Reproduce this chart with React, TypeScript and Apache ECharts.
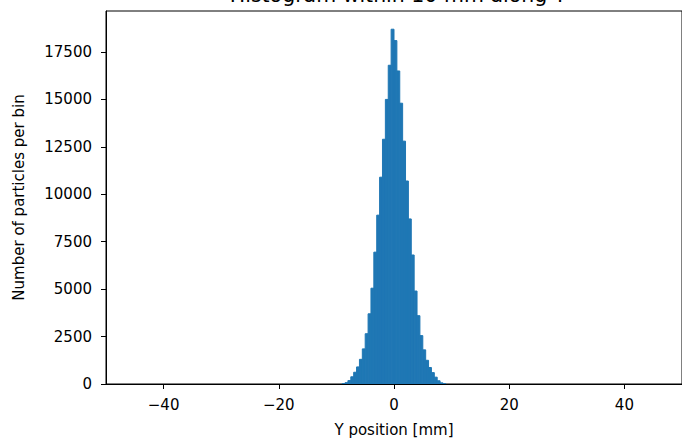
import React, { useEffect, useRef } from "react";
import * as echarts from "echarts";

const binEdgesLeft = [
  -9, -8.5, -8, -7.5, -7, -6.5, -6, -5.5, -5, -4.5, -4, -3.5, -3, -2.5, -2, -1.5, -1, -0.5,
  0, 0.5, 1, 1.5, 2, 2.5, 3, 3.5, 4, 4.5, 5, 5.5, 6, 6.5, 7, 7.5, 8, 8.5,
];
const binWidth = 0.5;
const counts = [
  20, 70, 180, 380, 620, 900, 1300, 1850, 2650, 3700, 5050, 6950, 8900, 10900, 12900, 15000, 16800, 18700,
  18100, 16500, 14800, 12800, 10700, 8700, 6800, 4900, 3600, 2550, 1800, 1250, 870, 600, 360, 170, 60, 15,
];
const xTicks = [-40, -20, 0, 20, 40];
const yTicks = [0, 2500, 5000, 7500, 10000, 12500, 15000, 17500];
const titleText = "Histogram within 10 mm along Y";
const xName = "Y position [mm]";
const yName = "Number of particles per bin";

const FONT = "DejaVu Sans";

export default function App() {
  const ref = useRef<HTMLDivElement>(null);
  useEffect(() => {
    document.body.style.margin = "0";
    const chart = echarts.init(ref.current!, null, { renderer: "svg" });
    const data = binEdgesLeft.map((l, i) => [l, l + binWidth, counts[i]]);
    chart.setOption({
      animation: false,
      backgroundColor: "#fff",
      title: {
        text: titleText,
        left: 393,
        textAlign: "center",
        top: -21,
        textStyle: { fontFamily: FONT, fontSize: 20.5, fontWeight: "normal", color: "#000" },
      },
      grid: {
        left: 106,
        top: 11,
        width: 581,
        height: 373,
        show: true,
        borderColor: "#000",
        borderWidth: 1,
        backgroundColor: "transparent",
      },
      xAxis: {
        type: "value",
        min: -50,
        max: 50,
        name: xName,
        nameLocation: "middle",
        nameGap: 38,
        nameTextStyle: { fontFamily: FONT, fontSize: 15, color: "#000" },
        axisLine: { show: true, onZero: false, lineStyle: { color: "#000", width: 1 } },
        axisTick: { show: true, length: 5, lineStyle: { color: "#000" }, customValues: xTicks },
        axisLabel: {
          fontFamily: FONT,
          fontSize: 15,
          color: "#000",
          margin: 13,
          customValues: xTicks,
          formatter: (v: number) => (v < 0 ? "\u2212" + Math.abs(v) : String(v)),
        },
        splitLine: { show: false },
      },
      yAxis: {
        type: "value",
        min: 0,
        max: 19660,
        name: yName,
        nameLocation: "middle",
        nameGap: 80,
        nameTextStyle: { fontFamily: FONT, fontSize: 15, color: "#000" },
        axisLine: { show: true, onZero: false, lineStyle: { color: "#000", width: 1 } },
        axisTick: { show: true, length: 5, lineStyle: { color: "#000" }, customValues: yTicks },
        axisLabel: {
          fontFamily: FONT,
          fontSize: 15,
          color: "#000",
          margin: 14,
          customValues: yTicks,
          formatter: (v: number) => String(v),
        },
        splitLine: { show: false },
      },
      series: [
        {
          type: "custom",
          data,
          clip: true,
          renderItem: (params: any, api: any) => {
            const l = api.value(0);
            const r = api.value(1);
            const c = api.value(2);
            const p0 = api.coord([l, 0]);
            const p1 = api.coord([r, c]);
            return {
              type: "rect",
              shape: { x: p0[0], y: p1[1], width: p1[0] - p0[0], height: p0[1] - p1[1] },
              style: { fill: "#1f77b4", stroke: "#1f77b4", lineWidth: 1 },
            };
          },
          encode: { x: [0, 1], y: 2 },
        },
      ],
    });
    return () => chart.dispose();
  }, []);
  return <div ref={ref} style={{ width: 682, height: 442 }} />;
}
